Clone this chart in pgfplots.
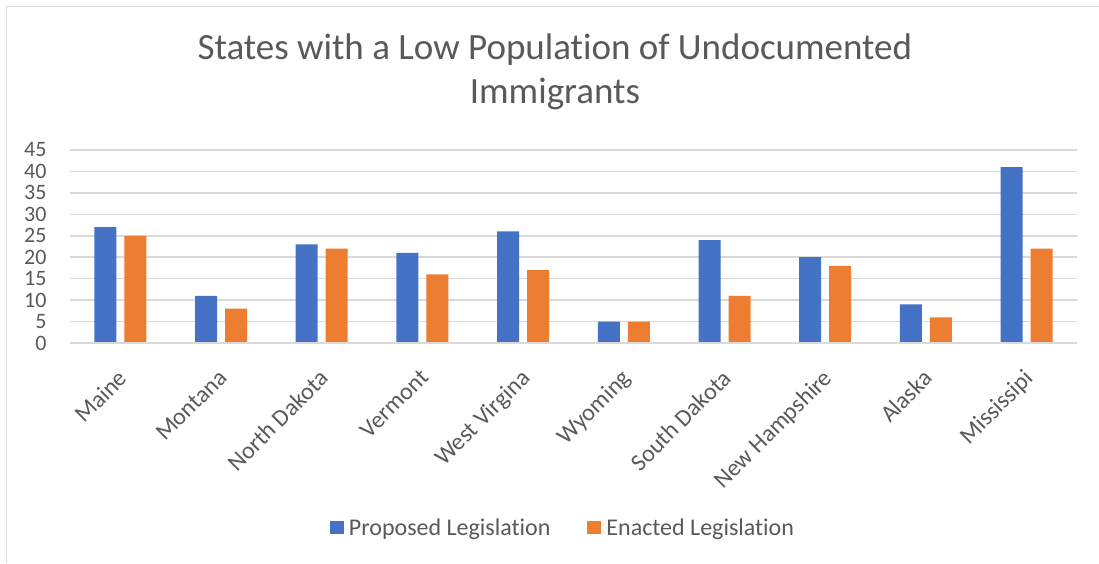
\documentclass[border=0pt]{standalone}
\usepackage{fontspec}
\setmainfont{Carlito}[Ligatures=NoCommon]
\usepackage{pgfplots}
\pgfplotsset{compat=1.18}
\definecolor{pblue}{HTML}{4472C4}
\definecolor{porange}{HTML}{ED7D31}
\definecolor{gridc}{HTML}{D9D9D9}
\definecolor{txt}{HTML}{595959}
\begin{document}
\begin{tikzpicture}[x=1pt,y=1pt]
\useasboundingbox (0,0) rectangle (1099,563);
\draw[gridc, line width=1.5pt] (6.5,0) -- (6.5,556.5) -- (1099,556.5);
\begin{axis}[
  at={(70pt,220pt)}, anchor=south west,
  scale only axis, width=1007pt, height=193pt,
  ybar, bar width=22pt, ybar=8pt,
  xmin=-0.5, xmax=9.5, ymin=0, ymax=45,
  ytick={0,5,...,45},
  xtick=data,
  xticklabels={Maine,Montana,North Dakota,Vermont,West Virgina,Wyoming,South Dakota,New Hampshire,Alaska,Mississipi},
  major tick length=0pt,
  axis line style={draw=none},
  xmajorgrids=false, ymajorgrids=true, grid style={color=gridc, line width=1.5pt},
  /pgf/number format/assume math mode=true,
  tick label style={font=\fontsize{22}{24}\selectfont, text=txt},
  yticklabel style={anchor=east, xshift=-20pt},
  xticklabel style={font=\fontsize{24}{26}\selectfont, xshift=-3.6pt, yshift=-24.8pt, rotate=45, anchor=north east, inner sep=0pt},
  title={States with a Low Population of Undocumented\\Immigrants},
  title style={at={(0.4816,1.373)}, anchor=center, align=center, font=\fontsize{37}{44}\selectfont, text=txt},
  legend columns=2,
  legend style={at={(0.4896,-0.9585)}, anchor=center, draw=none, font=\fontsize{24}{26}\selectfont, text=txt,
    /tikz/every odd column/.append style={column sep=3pt},
    /tikz/every even column/.append style={column sep=35pt}},
  legend image code/.code={\fill[#1] (0pt,-6.5pt) rectangle (14pt,6.5pt);},
]
\addplot[fill=pblue, draw=none] coordinates {(0,27) (1,11) (2,23) (3,21) (4,26) (5,5) (6,24) (7,20) (8,9) (9,41)};
\addplot[fill=porange, draw=none] coordinates {(0,25) (1,8) (2,22) (3,16) (4,17) (5,5) (6,11) (7,18) (8,6) (9,22)};
\legend{Proposed Legislation, Enacted Legislation}
\draw[gridc, line width=1.5pt] (axis cs:-0.5,0) -- (axis cs:9.5,0);
\end{axis}
\end{tikzpicture}
\end{document}
